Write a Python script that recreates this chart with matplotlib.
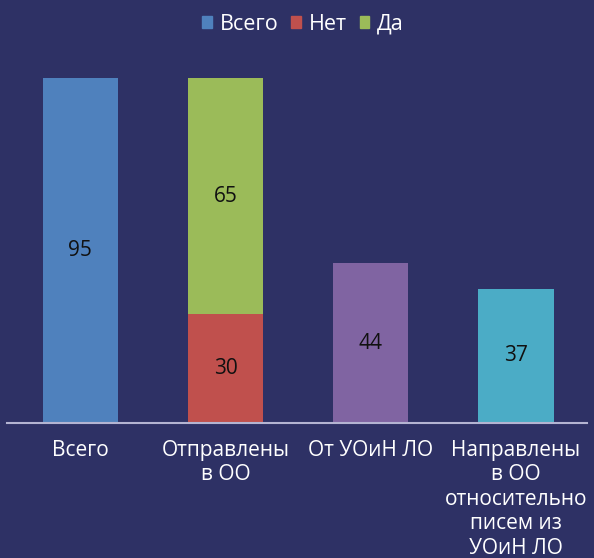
import numpy as np
import matplotlib
matplotlib.use("Agg")
import matplotlib.pyplot as plt
from matplotlib.patches import Patch

plt.rcParams['font.family'] = ['Open Sans', 'DejaVu Sans']

categories = ["Всего", "Отправлены\nв ОО", "От УОиН ЛО",
              "Направлены\nв ОО\nотносительно\nписем из\nУОиН ЛО"]
vsego = [95, np.nan, 44, 37]
net = [np.nan, 30, np.nan, np.nan]
da = [np.nan, 65, np.nan, np.nan]
series_names = ["Всего", "Нет", "Да"]

bg = "#2E3165"
c_blue, c_red, c_green = "#4F81BD", "#C0504D", "#9BBB59"
point_colors = [c_blue, c_blue, "#8064A2", "#4BACC6"]

fig = plt.figure(figsize=(5.94, 5.58), dpi=100, facecolor=bg)
ax = fig.add_axes([7/594, 1-423/558, 580/594, (423-60)/558])
ax.set_facecolor(bg)

x = np.arange(len(categories))
w = 0.52
b1 = ax.bar(x, vsego, w, color=point_colors)
b2 = ax.bar(x, net, w, color=c_red)
b3 = ax.bar(x, da, w, bottom=net, color=c_green)

def label(vals, bottoms=None):
    for i, v in enumerate(vals):
        if np.isnan(v):
            continue
        b = 0 if bottoms is None else bottoms[i]
        ax.text(x[i], b + v/2, f"{int(v)}", ha="center", va="center",
                fontsize=15, color="#111111")

label(vsego)
label(net)
label(da, net)

ax.set_xlim(-0.505, 3.49)
ax.set_ylim(0, 100)
for s in ["top", "right", "left"]:
    ax.spines[s].set_visible(False)
ax.spines["bottom"].set_color("#B4B4D2")
ax.spines["bottom"].set_linewidth(1.5)
ax.set_yticks([])
ax.set_xticks(x)
ax.set_xticklabels(categories, color="white", fontsize=15, linespacing=1.22, va="top")
ax.tick_params(axis="x", length=0, pad=12)

handles = [Patch(color=c_blue), Patch(color=c_red), Patch(color=c_green)]
fig.legend(handles, series_names, loc="center", bbox_to_anchor=(0.51, 1-24/558),
           ncol=3, frameon=False, fontsize=15.5, labelcolor="white",
           handlelength=0.45, handleheight=0.45, handletextpad=0.35, columnspacing=0.6)

fig.savefig("out.png", dpi=100, facecolor=bg)
